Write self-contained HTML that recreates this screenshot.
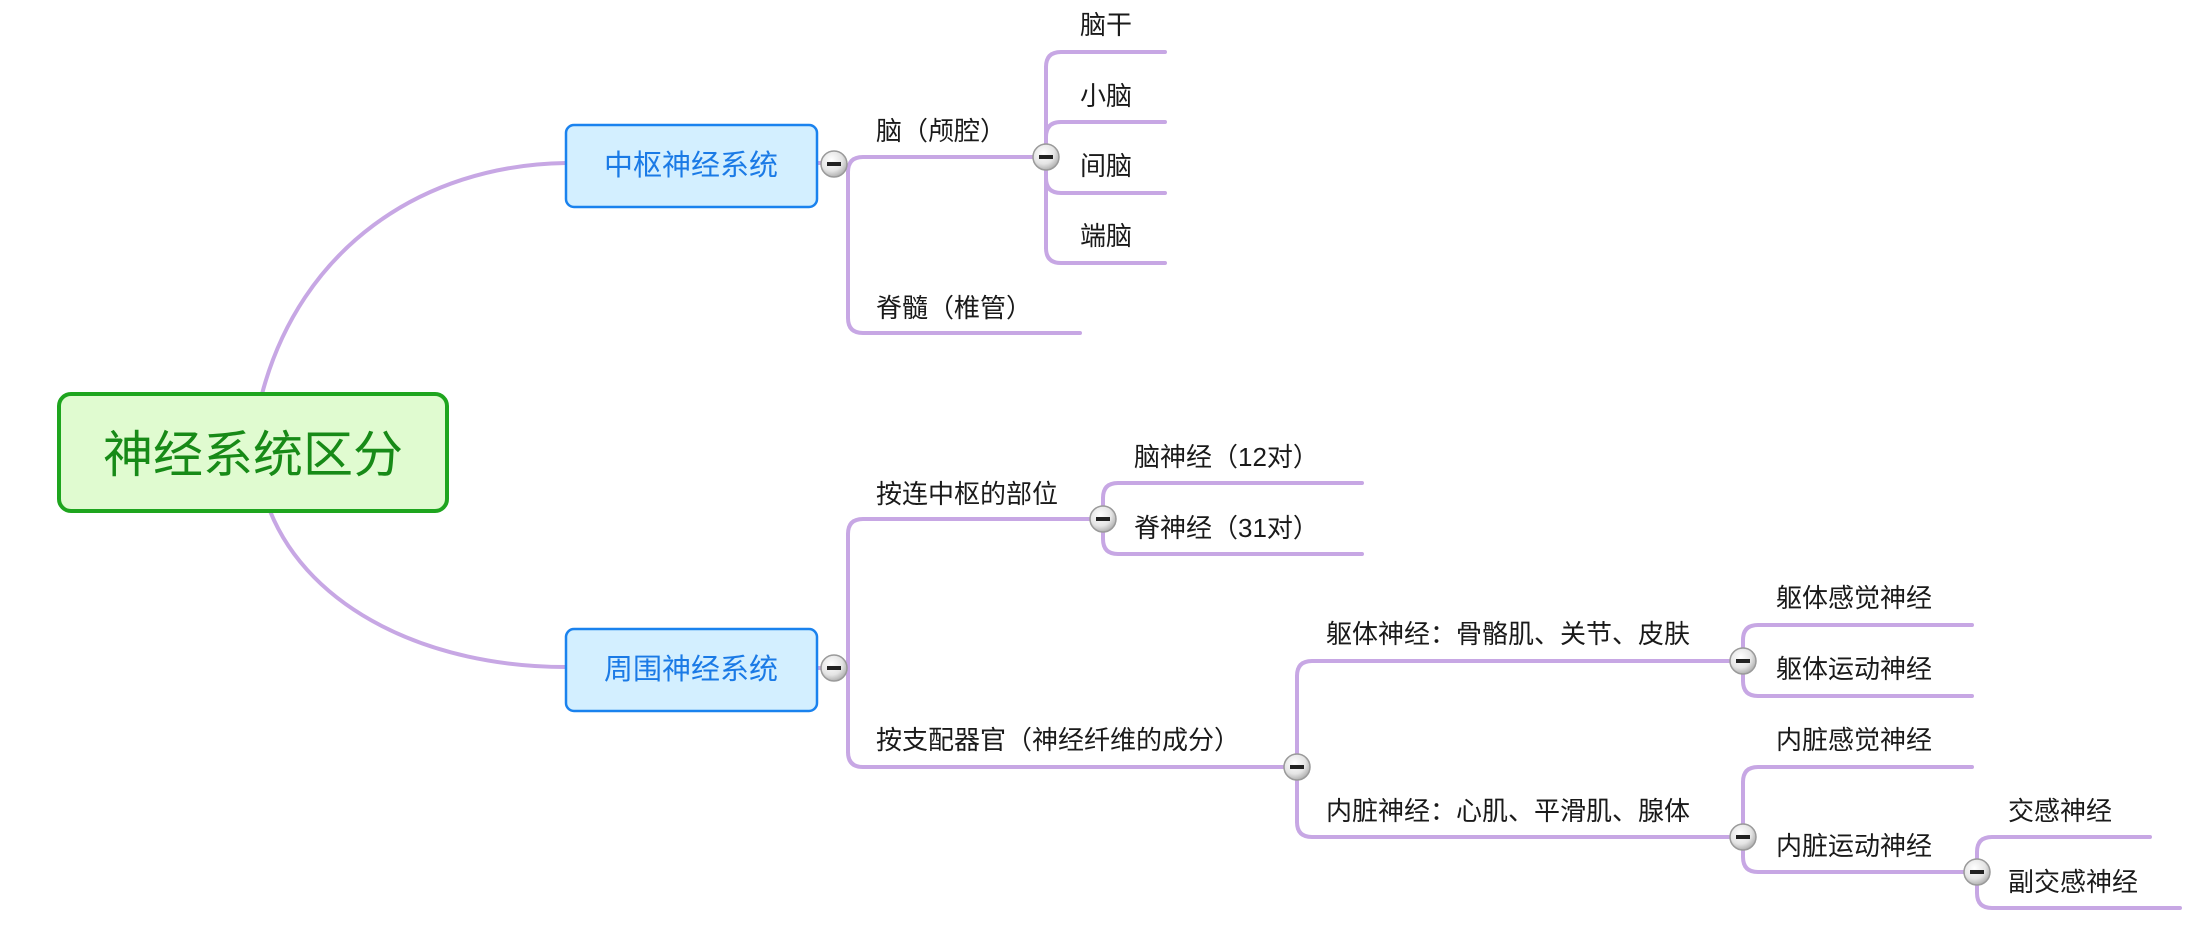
<!DOCTYPE html>
<html><head><meta charset="utf-8"><style>
html,body{margin:0;padding:0;background:#fff;}
svg{display:block;}
text{font-family:"Liberation Sans","Noto Sans CJK SC",sans-serif;}
</style></head><body>
<svg width="2195" height="949" viewBox="0 0 2195 949" xmlns="http://www.w3.org/2000/svg">
<defs>
<radialGradient id="cg" cx="40%" cy="35%" r="70%">
<stop offset="0" stop-color="#ffffff"/><stop offset="0.6" stop-color="#e4e4e4"/><stop offset="1" stop-color="#a8a8a8"/>
</radialGradient>
</defs>
<g fill="none" stroke="#c7a7e4" stroke-width="4" stroke-linecap="round">
<path d="M262,394 C300,250 420,165 566,163"/>
<path d="M270,511 C310,610 430,667 566,667"/>
<path d="M817,163 L834,163"/>
<path d="M848,172 L848,318 Q848,333 863,333 L1080,333"/>
<path d="M848,172 Q848,157 863,157 L1046,157"/>
<path d="M1046,67 L1046,248"/>
<path d="M1046,67 Q1046,52 1061,52 L1165,52"/>
<path d="M1046,137 Q1046,122 1061,122 L1165,122"/>
<path d="M1046,178 Q1046,193 1061,193 L1165,193"/>
<path d="M1046,248 Q1046,263 1061,263 L1165,263"/>
<path d="M817,668 L834,668"/>
<path d="M848,534 L848,752"/>
<path d="M848,534 Q848,519 863,519 L1103,519"/>
<path d="M848,752 Q848,767 863,767 L1297,767"/>
<path d="M1103,498 Q1103,483 1118,483 L1362,483"/>
<path d="M1103,498 L1103,539 Q1103,554 1118,554 L1362,554"/>
<path d="M1297,676 L1297,822"/>
<path d="M1297,676 Q1297,661 1312,661 L1743,661"/>
<path d="M1297,822 Q1297,837 1312,837 L1743,837"/>
<path d="M1743,640 L1743,681 Q1743,696 1758,696 L1972,696"/>
<path d="M1743,640 Q1743,625 1758,625 L1972,625"/>
<path d="M1743,782 L1743,857 Q1743,872 1758,872 L1977,872"/>
<path d="M1743,782 Q1743,767 1758,767 L1972,767"/>
<path d="M1977,852 L1977,893 Q1977,908 1992,908 L2180,908"/>
<path d="M1977,852 Q1977,837 1992,837 L2150,837"/>
</g>
<rect x="59" y="394" width="388" height="117" rx="12" fill="#e0fbd0" stroke="#1ea51e" stroke-width="4"/>
<text x="253" y="455" font-size="50" fill="#178a17" text-anchor="middle" dominant-baseline="central">神经系统区分</text>
<rect x="566" y="125" width="251" height="82" rx="8" fill="#d3efff" stroke="#1a82ee" stroke-width="2.5"/>
<text x="691" y="166" font-size="29" fill="#1a7ae6" text-anchor="middle" dominant-baseline="central">中枢神经系统</text>
<rect x="566" y="629" width="251" height="82" rx="8" fill="#d3efff" stroke="#1a82ee" stroke-width="2.5"/>
<text x="691" y="670" font-size="29" fill="#1a7ae6" text-anchor="middle" dominant-baseline="central">周围神经系统</text>
<g stroke="#9a9a9a" stroke-width="1.5" fill="url(#cg)">
<circle cx="834" cy="164" r="13"/><circle cx="1046" cy="157" r="13"/>
<circle cx="834" cy="668" r="13"/><circle cx="1103" cy="519" r="13"/>
<circle cx="1297" cy="767" r="13"/><circle cx="1743" cy="661" r="13"/>
<circle cx="1743" cy="837" r="13"/><circle cx="1977" cy="872" r="13"/>
</g>
<g fill="#222">
<rect x="827" y="162" width="14" height="4"/><rect x="1039" y="155" width="14" height="4"/>
<rect x="827" y="666" width="14" height="4"/><rect x="1096" y="517" width="14" height="4"/>
<rect x="1290" y="765" width="14" height="4"/><rect x="1736" y="659" width="14" height="4"/>
<rect x="1736" y="835" width="14" height="4"/><rect x="1970" y="870" width="14" height="4"/>
</g>
<g font-size="26" fill="#1a1a1a" dominant-baseline="central">
<text x="876" y="131">脑（颅腔）</text>
<text x="876" y="308">脊髓（椎管）</text>
<text x="1080" y="25">脑干</text>
<text x="1080" y="96">小脑</text>
<text x="1080" y="166">间脑</text>
<text x="1080" y="236">端脑</text>
<text x="876" y="494">按连中枢的部位</text>
<text x="876" y="740">按支配器官（神经纤维的成分）</text>
<text x="1134" y="457">脑神经（12对）</text>
<text x="1134" y="528">脊神经（31对）</text>
<text x="1326" y="634">躯体神经：骨骼肌、关节、皮肤</text>
<text x="1326" y="811">内脏神经：心肌、平滑肌、腺体</text>
<text x="1776" y="598">躯体感觉神经</text>
<text x="1776" y="669">躯体运动神经</text>
<text x="1776" y="740">内脏感觉神经</text>
<text x="1776" y="846">内脏运动神经</text>
<text x="2008" y="811">交感神经</text>
<text x="2008" y="882">副交感神经</text>
</g>
</svg>
</body></html>
